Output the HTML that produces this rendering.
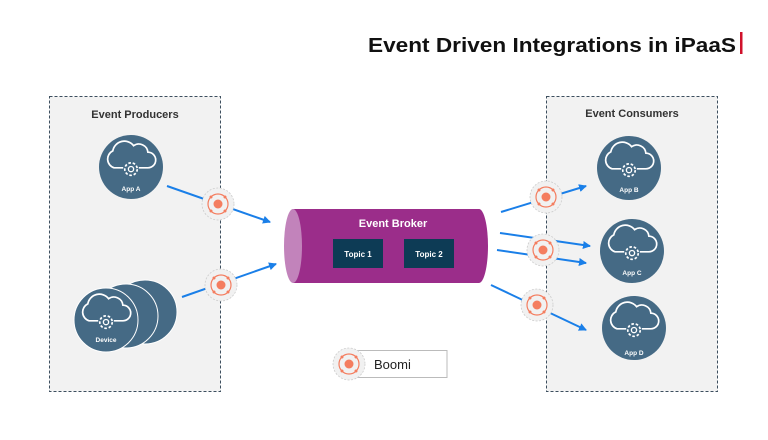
<!DOCTYPE html>
<html><head><style>
body{margin:0;background:#fff;}
svg{display:block;font-family:"Liberation Sans",sans-serif;}
</style></head><body>
<svg width="768" height="440" viewBox="0 0 768 440" xmlns="http://www.w3.org/2000/svg">
<defs>
<marker id="ah" markerWidth="8" markerHeight="8" refX="7" refY="4" orient="auto" markerUnits="userSpaceOnUse">
<path d="M0,0 L8,4 L0,8 z" fill="#1a7fe8"/></marker>
<g id="cloud">
<g transform="scale(1.3)">
<path d="M-6,6 h-7 a7,7 0 0 1 -1,-13 a9,9 0 0 1 16,-4 a7,7 0 0 1 11,5 a6,6 0 0 1 0,12 h-7" fill="none" stroke="#fff" stroke-width="1.3"/>
<circle cx="0" cy="7" r="4.8" fill="none" stroke="#fff" stroke-width="1.3" stroke-dasharray="2 1.4"/>
<circle cx="0" cy="7" r="2" fill="none" stroke="#fff" stroke-width="1"/>
</g>
</g>
<g id="boomi">
<circle r="16" fill="#f1f1f1" stroke="#ccc" stroke-width="0.8" stroke-dasharray="2 1.5"/>
<circle r="10" fill="none" stroke="#f47d5f" stroke-width="1.2"/>
<circle r="4.5" fill="#f47d5f"/>
<circle cx="-7" cy="-7" r="1.5" fill="#f47d5f"/><circle cx="7" cy="-7" r="1.5" fill="#f47d5f"/>
<circle cx="-7" cy="7" r="1.5" fill="#f47d5f"/><circle cx="7" cy="7" r="1.5" fill="#f47d5f"/>
</g>
</defs>
<text x="368" y="52" font-size="20" font-weight="bold" fill="#111" textLength="368" lengthAdjust="spacingAndGlyphs">Event Driven Integrations in iPaaS</text>
<rect x="740" y="32" width="2.5" height="22" fill="#d0112b"/>

<rect x="49.5" y="96.5" width="171" height="295" fill="#f2f2f2" stroke="#3c4e5e" stroke-dasharray="3 2"/>
<rect x="546.5" y="96.5" width="171" height="295" fill="#f2f2f2" stroke="#3c4e5e" stroke-dasharray="3 2"/>
<text x="135" y="118" font-size="11" font-weight="bold" fill="#333" text-anchor="middle">Event Producers</text>
<text x="632" y="117" font-size="11" font-weight="bold" fill="#333" text-anchor="middle">Event Consumers</text>

<g fill="#456a85">
<circle cx="131" cy="167" r="32"/>
<circle cx="145" cy="312" r="32" stroke="#fff" stroke-width="1"/>
<circle cx="126" cy="316" r="32" stroke="#fff" stroke-width="1"/>
<circle cx="106" cy="320" r="32" stroke="#fff" stroke-width="1"/>
<circle cx="629" cy="168" r="32"/>
<circle cx="632" cy="251" r="32"/>
<circle cx="634" cy="328" r="32"/>
</g>
<use href="#cloud" x="131" y="160"/>
<use href="#cloud" x="106" y="313"/>
<use href="#cloud" x="629" y="161"/>
<use href="#cloud" x="632" y="244"/>
<use href="#cloud" x="634" y="321"/>
<g font-size="6.5" fill="#fff" text-anchor="middle" font-weight="bold">
<text x="131" y="191">App A</text>
<text x="106" y="342">Device</text>
<text x="629" y="192">App B</text>
<text x="632" y="275">App C</text>
<text x="634" y="355">App D</text>
</g>

<g stroke="#1a7fe8" stroke-width="2" marker-end="url(#ah)">
<line x1="167" y1="186" x2="270" y2="222"/>
<line x1="182" y1="297" x2="276" y2="264"/>
<line x1="501" y1="212" x2="586" y2="186"/>
<line x1="500" y1="233" x2="590" y2="246"/>
<line x1="497" y1="250" x2="586" y2="263"/>
<line x1="491" y1="285" x2="586" y2="330"/>
</g>

<path d="M293,209 H479 a9,37 0 0 1 0,74 H293 z" fill="#9b2d8a"/>
<ellipse cx="293" cy="246" rx="9" ry="37" fill="#c283bb"/>
<text x="393" y="227" font-size="11" font-weight="bold" fill="#fff" text-anchor="middle">Event Broker</text>
<rect x="333" y="239" width="50" height="29" fill="#0d3b55"/>
<rect x="404" y="239" width="50" height="29" fill="#0d3b55"/>
<text x="358" y="257" font-size="8" font-weight="bold" fill="#fff" text-anchor="middle">Topic 1</text>
<text x="429" y="257" font-size="8" font-weight="bold" fill="#fff" text-anchor="middle">Topic 2</text>

<use href="#boomi" x="218" y="204"/>
<use href="#boomi" x="221" y="285"/>
<use href="#boomi" x="546" y="197"/>
<use href="#boomi" x="543" y="250"/>
<use href="#boomi" x="537" y="305"/>

<rect x="356" y="350.5" width="91" height="27" fill="#fff" stroke="#bbb"/>
<use href="#boomi" x="349" y="364"/>
<text x="374" y="369" font-size="13" fill="#222">Boomi</text>
</svg>
</body></html>
